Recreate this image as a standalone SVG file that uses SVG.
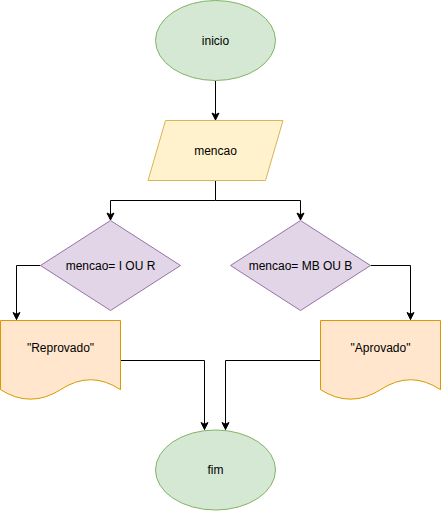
<svg xmlns="http://www.w3.org/2000/svg" width="441" height="511" viewBox="0 0 441 511">
  <style>
    .terminal { fill: #d5e8d4; stroke: #82b366; stroke-width: 1; }
    .io { fill: #fff2cc; stroke: #d6b656; stroke-width: 1; }
    .decision { fill: #e1d5e7; stroke: #9673a6; stroke-width: 1; }
    .doc { fill: #ffe6cc; stroke: #d79b00; stroke-width: 1; }
    .edge { fill: none; stroke: #000000; stroke-width: 1; marker-end: url(#arrow); }
    text { font-family: "Liberation Sans", Arial, Helvetica, sans-serif; font-size: 12px; fill: #000000; text-anchor: middle; dominant-baseline: central; }
  </style>
  <defs>
    <marker id="arrow" viewBox="-8 -5 9 10" refX="0" refY="0" markerWidth="9" markerHeight="10" markerUnits="userSpaceOnUse" orient="auto">
      <path d="M0,0 L-7,-3.5 L-5.25,0 L-7,3.5 Z" fill="#000000" stroke="#000000" stroke-width="1"/>
    </marker>
  </defs>

  <g id="connectors">
    <path class="edge" d="M215.5,80.5 V120"/>
    <path class="edge" d="M215.5,180.5 V200.5 H110.5 V220"/>
    <path class="edge" d="M215.5,200.5 H300.5 V220"/>
    <path class="edge" d="M40.5,265.5 H16.5 V319.5"/>
    <path class="edge" d="M370.5,265.5 H410.5 V319.5"/>
    <path class="edge" d="M120.5,360.5 H204.5 V429.5"/>
    <path class="edge" d="M320.5,360.5 H225.5 V429.5"/>
  </g>

  <g id="inicio">
    <ellipse class="terminal" cx="215.5" cy="40.5" rx="60" ry="40"/>
    <text x="215.5" y="40.5">inicio</text>
  </g>

  <g id="mencao">
    <polygon class="io" points="165.5,120.5 283,120.5 265.5,180.5 148,180.5"/>
    <text x="215.5" y="150.5">mencao</text>
  </g>

  <g id="teste-i-r">
    <polygon class="decision" points="110.5,220.5 180.5,265.5 110.5,310.5 40.5,265.5"/>
    <text x="110.5" y="265.5">mencao= I OU R</text>
  </g>

  <g id="teste-mb-b">
    <polygon class="decision" points="300.5,220.5 370.5,265.5 300.5,310.5 230.5,265.5"/>
    <text x="300.5" y="265.5">mencao= MB OU B</text>
  </g>

  <g id="reprovado">
    <path class="doc" d="M0.5,320.5 H120.5 V389.7 Q90.5,369.8 60.5,389.7 Q30.5,408.6 0.5,389.7 Z"/>
    <text x="60.5" y="347.5">"Reprovado"</text>
  </g>

  <g id="aprovado">
    <path class="doc" d="M320.5,320.5 H440.5 V389.7 Q410.5,369.8 380.5,389.7 Q350.5,408.6 320.5,389.7 Z"/>
    <text x="380.5" y="347.5">"Aprovado"</text>
  </g>

  <g id="fim">
    <ellipse class="terminal" cx="215.5" cy="470" rx="60" ry="40"/>
    <text x="215.5" y="470">fim</text>
  </g>
</svg>
